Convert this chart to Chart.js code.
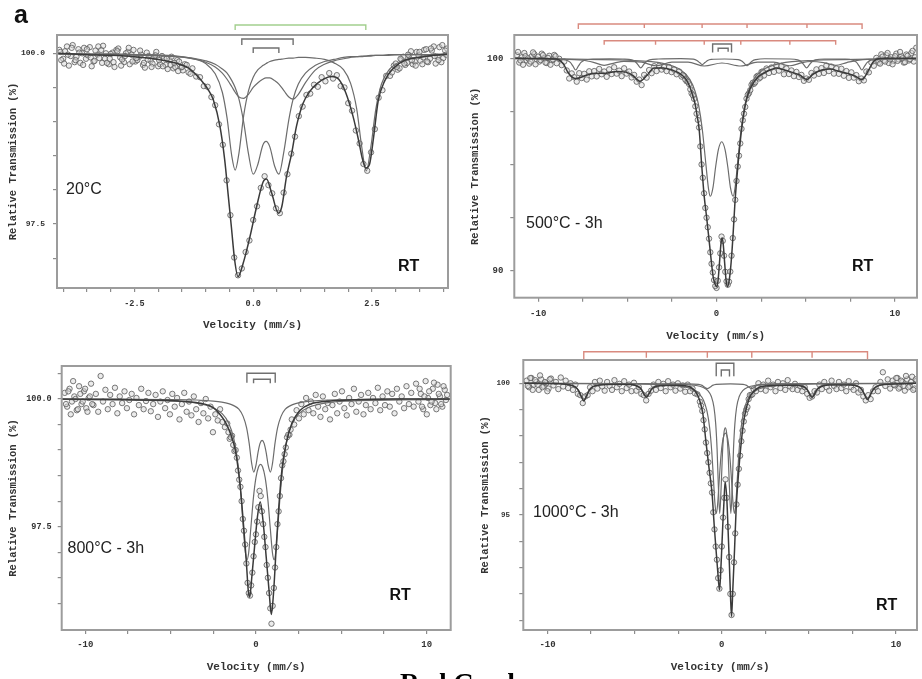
<!DOCTYPE html>
<html><head><meta charset="utf-8">
<script src="https://cdn.jsdelivr.net/npm/chart.js@4.4.1/dist/chart.umd.min.js"></script>
<style>
html,body{margin:0;padding:0;background:#fff;width:922px;height:679px;overflow:hidden;position:relative;}
canvas{position:absolute;}
.lbl{position:absolute;white-space:nowrap;font-family:"Liberation Sans",Arial,sans-serif;line-height:1;}
</style></head><body>
<canvas id="c1" width="460" height="340" style="left:0px;top:0px;width:460px;height:340px"></canvas>
<canvas id="c2" width="462" height="345" style="left:460px;top:0px;width:462px;height:345px"></canvas>
<canvas id="c3" width="460" height="334" style="left:0px;top:345px;width:460px;height:334px"></canvas>
<canvas id="c4" width="462" height="339" style="left:460px;top:340px;width:462px;height:339px"></canvas>
<div class="lbl" style="left:14px;top:2px;font-size:25px;font-weight:bold;color:#111">a</div>
<div class="lbl" style="left:66px;top:181px;font-size:16px;color:#222">20°C</div>
<div class="lbl" style="left:526px;top:214.5px;font-size:16px;color:#222">500°C - 3h</div>
<div class="lbl" style="left:67.5px;top:539.5px;font-size:16px;color:#222">800°C - 3h</div>
<div class="lbl" style="left:533px;top:504px;font-size:16px;color:#222">1000°C - 3h</div>
<div class="lbl" style="left:398px;top:258px;font-size:16px;font-weight:bold;color:#111">RT</div>
<div class="lbl" style="left:852px;top:258px;font-size:16px;font-weight:bold;color:#111">RT</div>
<div class="lbl" style="left:389.5px;top:586.5px;font-size:16px;font-weight:bold;color:#111">RT</div>
<div class="lbl" style="left:876px;top:597px;font-size:16px;font-weight:bold;color:#111">RT</div>
<div class="lbl" style="left:400px;top:670px;font-size:27px;font-weight:bold;color:#000;font-family:'Liberation Serif','Times New Roman',serif">Red Grade</div>
<script>
// ---------------- Panel 1 : 20 °C ----------------
const p1_xTicks = [-4,-3.5,-3,-2.5,-2,-1.5,-1,-0.5,0,0.5,1,1.5,2,2.5,3,3.5,4];
const p1_xMajor = [-2.5,0,2.5];
const p1_xMajorText = ['-2.5','0.0','2.5'];
const p1_yTicks = [100,99.5,99,98.5,98,97.5,97];
const p1_yMajor = [100,97.5];
const p1_yMajorText = ['100.0','97.5'];
const p1_compVel = [-4.1,-3,-2.2,-1.6,-1.2,-1.0,-0.8,-0.65,-0.55,-0.45,-0.38,-0.3,-0.2,-0.1,0,0.1,0.2,0.27,0.35,0.45,0.54,0.65,0.75,0.84,0.95,1.1,1.3,1.5,1.7,1.9,2.05,2.18,2.28,2.38,2.48,2.58,2.7,2.85,3.1,3.5,4.1];
const p1_fitA = [99.99,99.99,99.98,99.96,99.91,99.85,99.70,99.43,99.05,98.49,98.29,98.54,99.09,99.45,99.65,99.76,99.82,99.85,99.88,99.90,99.91,99.92,99.93,99.93,99.94,99.94,99.93,99.91,99.86,99.76,99.56,99.18,98.65,98.28,98.65,99.18,99.55,99.75,99.88,99.95,99.98];
const p1_fitB = [99.99,99.98,99.97,99.95,99.92,99.89,99.84,99.77,99.71,99.60,99.50,99.33,98.99,98.53,98.23,98.38,98.65,98.71,98.63,98.35,98.23,98.58,99.03,99.33,99.55,99.71,99.82,99.88,99.91,99.94,99.95,99.95,99.96,99.96,99.97,99.97,99.97,99.98,99.98,99.98,99.99];
const p1_fitC = [99.99,99.99,99.97,99.95,99.91,99.87,99.80,99.71,99.62,99.51,99.43,99.36,99.34,99.40,99.50,99.57,99.62,99.64,99.64,99.60,99.55,99.45,99.36,99.33,99.40,99.57,99.75,99.84,99.89,99.92,99.94,99.95,99.95,99.96,99.96,99.97,99.97,99.97,99.98,99.98,99.99];
const p1_totVel = [-4.1,-3.5,-3.0,-2.5,-2.0,-1.6,-1.35,-1.1,-0.95,-0.84,-0.7,-0.6,-0.53,-0.46,-0.39,-0.32,-0.21,-0.07,0.07,0.21,0.28,0.39,0.53,0.6,0.7,0.81,0.91,1.05,1.2,1.35,1.5,1.65,1.8,1.95,2.1,2.22,2.3,2.37,2.45,2.53,2.63,2.77,2.95,3.2,3.5,3.8,4.1];
const p1_totTr = [100.0,99.98,99.97,99.95,99.91,99.85,99.78,99.61,99.47,99.32,98.93,98.44,97.95,97.46,96.97,96.73,96.93,97.31,97.75,98.12,98.16,97.95,97.66,97.75,98.19,98.54,98.93,99.27,99.45,99.56,99.63,99.66,99.62,99.42,99.08,98.72,98.45,98.32,98.38,98.75,99.3,99.6,99.78,99.9,99.94,99.97,99.99];
const p1_vel = [-4.08,-4.0,-3.92,-3.84,-3.76,-3.68,-3.6,-3.52,-3.44,-3.36,-3.28,-3.2,-3.12,-3.04,-2.96,-2.88,-2.8,-2.72,-2.64,-2.56,-2.48,-2.4,-2.32,-2.24,-2.16,-2.08,-2.0,-1.92,-1.84,-1.76,-1.68,-1.6,-1.52,-1.44,-1.36,-1.28,-1.2,-1.12,-1.04,-0.96,-0.88,-0.8,-0.72,-0.64,-0.56,-0.48,-0.4,-0.32,-0.24,-0.16,-0.08,0,0.08,0.16,0.24,0.32,0.4,0.48,0.56,0.64,0.72,0.8,0.88,0.96,1.04,1.12,1.2,1.28,1.36,1.44,1.52,1.6,1.68,1.76,1.84,1.92,2.0,2.08,2.16,2.24,2.32,2.4,2.48,2.56,2.64,2.72,2.8,2.88,2.96,3.04,3.12,3.2,3.28,3.36,3.44,3.52,3.6,3.68,3.76,3.84,3.92,4.0,4.08];
const p1_tr = [100.05,99.92,100.10,99.96,99.87,100.06,100.00,99.92,100.09,99.88,99.98,100.05,99.92,99.84,100.01,100.05,99.94,99.87,100.02,99.98,99.88,99.95,99.83,100.01,99.89,99.95,99.81,99.96,99.83,99.9,99.78,99.9,99.79,99.84,99.72,99.78,99.66,99.65,99.52,99.51,99.36,99.24,98.96,98.66,98.14,97.63,97.01,96.75,96.85,97.09,97.26,97.56,97.76,98.03,98.2,98.07,97.95,97.73,97.66,97.96,98.23,98.53,98.78,99.08,99.22,99.39,99.41,99.54,99.51,99.65,99.59,99.71,99.63,99.68,99.52,99.5,99.27,99.16,98.87,98.68,98.38,98.28,98.55,98.89,99.35,99.46,99.67,99.67,99.82,99.76,99.91,99.83,99.97,99.84,100.02,99.89,100.05,99.87,100.04,99.85,100.09,99.93,100.07];
const p1_velW = [-4.04,-3.96,-3.88,-3.8,-3.72,-3.64,-3.56,-3.48,-3.4,-3.32,-3.24,-3.16,-3.08,-3.0,-2.92,-2.84,-2.76,-2.68,-2.6,-2.52,-2.44,-2.36,-2.28,-2.2,-2.12,-2.04,-1.96,-1.88,-1.8,-1.72,-1.64,-1.56,-1.48,-1.4,-1.32,2.92,3.0,3.08,3.16,3.24,3.32,3.4,3.48,3.56,3.64,3.72,3.8,3.88,3.96,4.04,
  -4.06,-3.98,-3.9,-3.82,-3.74,-3.66,-3.58,-3.5,-3.42,-3.34,-3.26,-3.18,-3.1,-3.02,-2.94,-2.86,-2.78,-2.7,-2.62,-2.54,-2.46,-2.38,-2.3,-2.22,-2.14,-2.06,-1.98,-1.9,-1.82,-1.74,-1.66,-1.58,-1.5,3.02,3.1,3.18,3.26,3.34,3.42,3.5,3.58,3.66,3.74,3.82,3.9,3.98,4.06];
const p1_trW = [99.9,100.03,99.82,100.12,99.95,99.86,100.08,99.97,99.81,100.04,99.93,100.11,99.86,99.99,99.8,100.07,99.91,100.0,99.84,100.05,99.9,99.98,99.79,99.96,99.85,100.02,99.84,99.93,99.77,99.95,99.8,99.88,99.75,99.83,99.7,99.72,99.85,99.78,99.95,99.86,100.03,99.88,99.97,99.84,100.06,99.92,100.1,99.95,99.87,100.04,
  100.02,99.85,99.98,100.08,99.9,100.01,99.83,100.06,99.94,99.89,100.1,99.86,100.0,99.92,99.87,100.03,99.82,99.96,100.08,99.88,99.93,100.04,99.86,99.91,99.8,99.97,99.9,99.81,99.92,99.83,99.86,99.74,99.8,99.8,99.92,99.85,99.98,99.9,99.82,100.02,99.94,99.88,100.07,99.96,99.9,100.12,99.98];
const p1_brGreen = [-0.38,2.37];
const p1_brOuter = [-0.24,0.84];
const p1_brInner = [0.0,0.54];

// ---------------- Panel 2 : 500 °C - 3h ----------------
const pX_ticks = [-10,-7.5,-5,-2.5,0,2.5,5,7.5,10];
const pX_major = [-10,0,10];
const pX_majorText = ['-10','0','10'];
const p2_yTicks = [100,97.5,95,92.5,90];
const p2_yMajor = [100,90];
const p2_yMajorText = ['100','90'];
const p2_totVel = [-11.34,-9.0,-8.6,-8.3,-7.9,-7.3,-6.8,-6.2,-5.6,-5.1,-4.7,-4.3,-3.9,-3.5,-3.0,-2.5,-2.0,-1.7,-1.5,-1.3,-1.21,-1.08,-0.97,-0.84,-0.69,-0.56,-0.38,-0.19,-0.08,0.0,0.08,0.16,0.24,0.31,0.38,0.46,0.54,0.62,0.72,0.82,0.92,1.03,1.21,1.4,1.55,1.68,1.85,2.05,2.3,2.61,3.0,3.36,3.6,4.2,4.7,5.05,5.4,5.9,6.4,6.8,7.3,7.8,8.15,8.5,8.8,9.3,11.24];
const p2_totTr = [100.0,99.97,99.75,99.3,99.05,99.2,99.3,99.3,99.38,99.35,99.2,98.92,99.2,99.55,99.55,99.45,99.25,99.0,98.66,98.15,97.88,97.25,96.62,95.05,93.48,92.54,91.13,89.71,89.35,89.24,89.5,90.3,91.2,91.55,91.2,90.3,89.5,89.24,89.6,90.4,91.6,93.17,95.05,96.62,97.5,98.04,98.5,98.82,99.1,99.29,99.45,99.55,99.5,99.35,99.2,99.0,99.25,99.45,99.5,99.4,99.3,99.15,99.0,99.4,99.85,100.0,100.0];
const p2_dblVel = [-11.34,-8,-5,-3,-2,-1.5,-1.2,-1.0,-0.8,-0.6,-0.45,-0.35,-0.2,-0.05,0.1,0.29,0.48,0.63,0.78,0.93,1.03,1.18,1.38,1.58,1.78,2.08,2.58,3.58,5.58,8.58,11.24];
const p2_dblTr = [99.98,99.96,99.91,99.76,99.45,99.01,98.44,97.77,96.66,95.03,93.85,93.5,93.91,94.89,95.69,96.07,95.69,94.89,93.91,93.5,93.85,95.03,96.66,97.77,98.44,99.01,99.45,99.76,99.91,99.96,99.98];
const p2_sx1Vel = [-11.34,-9.5,-8.9,-8.4,-8.2,-8.05,-7.9,-7.75,-7.6,-7.4,-6.9,-6.0,-5.25,-4.75,-4.55,-4.4,-4.25,-4.1,-3.95,-3.75,-3.25,-2.0,-1.3,-1.1,-0.95,-0.8,-0.65,-0.5,-0.3,0.45,1.21,1.41,1.56,1.71,1.86,2.01,2.21,2.7,4.05,4.55,4.75,4.9,5.05,5.2,5.35,5.55,6.05,7.2,7.65,7.85,8.0,8.15,8.3,8.45,8.65,9.15,10,11.24];
const p2_sx1Tr = [100,99.98,99.97,99.91,99.81,99.63,99.45,99.63,99.81,99.91,99.97,99.98,99.97,99.93,99.84,99.69,99.55,99.69,99.84,99.93,99.97,99.99,99.96,99.9,99.8,99.7,99.8,99.9,99.95,99.97,99.94,99.88,99.76,99.65,99.76,99.88,99.94,99.98,99.97,99.93,99.84,99.69,99.55,99.69,99.84,99.93,99.97,99.97,99.91,99.81,99.63,99.45,99.63,99.81,99.91,99.97,99.98,100];
const p2_sx2Vel = [-11.34,-9,-7.5,-6.9,-6.3,-5.7,-5.2,-4.2,-3.4,-2.5,-1.6,-0.69,0.3,1.36,2.3,3.2,4.11,4.8,5.3,6.0,6.68,7.3,8,9.5,11.24];
const p2_sx2Tr = [99.99,99.97,99.91,99.81,99.67,99.79,99.86,99.82,99.65,99.82,99.82,99.64,99.78,99.64,99.82,99.82,99.65,99.8,99.85,99.8,99.67,99.8,99.92,99.97,99.99];
const p2_vel = [-11.2,-11.06,-10.92,-10.78,-10.64,-10.5,-10.36,-10.22,-10.08,-9.94,-9.8,-9.66,-9.52,-9.38,-9.24,-9.1,-8.96,-8.82,-8.68,-8.54,-8.4,-8.26,-8.12,-7.98,-7.84,-7.7,-7.56,-7.42,-7.28,-7.14,-7.0,-6.86,-6.72,-6.58,-6.44,-6.3,-6.16,-6.02,-5.88,-5.74,-5.6,-5.46,-5.32,-5.18,-5.04,-4.9,-4.76,-4.62,-4.48,-4.34,-4.2,-4.06,-3.92,-3.78,-3.64,-3.5,-3.36,-3.22,-3.08,-2.94,-2.8,-2.66,-2.52,-2.38,-2.24,-2.1,-1.96,-1.82,-1.68,-1.54,-1.4,-1.26,-1.12,-0.98,-0.84,-0.7,-0.56,-0.42,-0.28,-0.14,0,0.14,0.28,0.42,0.56,0.7,0.84,0.98,1.12,1.26,1.4,1.54,1.68,1.82,1.96,2.1,2.24,2.38,2.52,2.66,2.8,2.94,3.08,3.22,3.36,3.5,3.64,3.78,3.92,4.06,4.2,4.34,4.48,4.62,4.76,4.9,5.04,5.18,5.32,5.46,5.6,5.74,5.88,6.02,6.16,6.3,6.44,6.58,6.72,6.86,7.0,7.14,7.28,7.42,7.56,7.7,7.84,7.98,8.12,8.26,8.4,8.54,8.68,8.82,8.96,9.1,9.24,9.38,9.52,9.66,9.8,9.94,10.08,10.22,10.36,10.5,10.64,10.78,10.92,11.06,11.2];
const p2_tr = [100.15,99.8,100.05,100.25,99.9,99.75,100.1,100.2,99.95,99.85,100.22,100.0,99.78,100.12,99.91,100.16,99.77,99.98,99.68,99.85,99.43,99.05,99.29,99.11,98.9,99.3,99.07,99.27,99.0,99.39,99.15,99.4,99.15,99.5,99.25,99.38,99.13,99.48,99.26,99.58,99.28,99.42,99.16,99.53,99.28,99.38,99.1,99.22,98.9,99.0,98.74,99.22,99.09,99.45,99.3,99.63,99.4,99.65,99.47,99.59,99.4,99.59,99.35,99.47,99.25,99.38,99.14,99.17,98.92,98.79,98.35,98.09,97.39,96.74,95.0,93.64,92.49,91.5,90.32,89.55,89.18,90.15,91.6,90.7,89.49,89.47,90.7,92.41,94.22,95.41,96.68,97.39,98.1,98.36,98.75,98.8,99.13,99.05,99.36,99.19,99.52,99.31,99.57,99.36,99.67,99.42,99.64,99.25,99.52,99.26,99.43,99.16,99.36,99.12,99.22,98.94,99.05,98.99,99.31,99.19,99.48,99.27,99.54,99.31,99.66,99.4,99.61,99.28,99.52,99.27,99.51,99.18,99.4,99.08,99.34,99.09,99.21,98.92,99.05,98.96,99.38,99.34,99.81,99.65,100.02,99.79,100.19,99.9,100.15,99.78,100.05,99.88,100.22,99.95,100.1,99.8,100.18,99.9,100.25,99.85,100.5];
const p2_velC = [-1.89,-1.75,-1.61,-1.47,-1.33,-1.19,-1.05,-0.91,-0.77,-0.63,-0.49,-0.35,-0.21,-0.07,0.07,0.21,0.35,0.49,0.63,0.77,0.91,1.05,1.19,1.33,1.47,1.61,1.75,1.89,2.03,2.17,2.31,2.45,2.59,-11.13,-10.99,-10.85,-10.71,-10.57,-10.43,-10.29,-10.15,-10.01,-9.87,-9.73,-9.59,-9.45,-9.31,-9.17,-9.03,9.03,9.17,9.31,9.45,9.59,9.73,9.87,10.01,10.15,10.29,10.43,10.57,10.71,10.85,10.99,11.13];
const p2_trC = [99.21,99.0,98.9,98.54,98.26,97.74,97.1,95.85,94.37,92.95,92.04,90.86,89.91,89.27,89.52,90.81,91.4,89.94,89.33,89.95,91.53,93.33,94.9,95.99,97.08,97.71,98.28,98.5,98.85,98.87,99.18,99.1,99.38,100.3,99.9,99.7,100.1,100.0,99.85,100.28,99.72,100.08,99.92,100.15,99.8,100.02,99.7,99.95,100.1,99.9,99.75,100.08,99.85,100.25,99.95,99.72,100.1,99.88,100.3,100.0,99.82,100.12,99.96,100.35,100.05];
const p2_brSextetA = [-7.75,-4.05,-0.81,1.71,5.07,8.16];
const p2_brSextetB = [-6.30,-3.42,-0.69,1.36,4.11,6.68];
const p2_brOuter = [-0.22,0.84];
const p2_brInner = [0.09,0.65];

// ---------------- Panel 3 : 800 °C - 3h ----------------
const p3_yTicks = [100.5,100,99.5,99,98.5,98,97.5,97,96.5,96];
const p3_yMajor = [100,97.5];
const p3_yMajorText = ['100.0','97.5'];
const p3_dblAVel = [-11.4,-8,-5,-3.5,-2.5,-2,-1.6,-1.3,-1.1,-0.9,-0.75,-0.63,-0.53,-0.43,-0.3,-0.15,0,0.15,0.27,0.39,0.54,0.69,0.84,0.97,1.07,1.17,1.29,1.44,1.64,1.84,2.14,2.54,3.04,4.04,5.54,8.54,11.42];
const p3_dblATr = [99.99,99.98,99.96,99.92,99.83,99.72,99.53,99.23,98.85,98.2,97.53,97.03,96.85,96.98,97.47,98.06,98.46,98.67,98.72,98.67,98.46,98.06,97.47,96.98,96.85,97.03,97.53,98.2,98.85,99.23,99.53,99.72,99.83,99.92,99.96,99.98,99.99];
const p3_dblBVel = [-11.4,-8,-5,-3.5,-2.5,-2,-1.6,-1.3,-1.0,-0.75,-0.55,-0.4,-0.25,-0.13,0,0.12,0.24,0.36,0.48,0.6,0.72,0.85,0.97,1.12,1.27,1.47,1.72,2.02,2.32,2.72,3.22,4.22,5.72,8.72,11.42];
const p3_dblBTr = [100,100,99.99,99.98,99.96,99.94,99.91,99.87,99.8,99.66,99.44,99.14,98.74,98.57,98.7,98.95,99.13,99.19,99.13,98.95,98.7,98.57,98.74,99.14,99.44,99.66,99.8,99.87,99.91,99.94,99.96,99.98,99.99,100,100];
const p3_totVel = [-11.4,-8,-5,-3.5,-3.0,-2.5,-2.09,-1.8,-1.5,-1.21,-1.01,-0.88,-0.72,-0.57,-0.45,-0.37,-0.24,-0.08,0.09,0.25,0.41,0.6,0.78,0.9,1.03,1.19,1.34,1.52,1.77,2.1,2.59,3.2,4,5.5,8,11.42];
const p3_totTr = [100.0,99.99,99.97,99.93,99.9,99.83,99.69,99.55,99.33,99.0,98.55,98.15,97.5,96.85,96.25,96.12,96.52,97.11,97.7,97.99,97.63,96.91,96.2,95.78,96.2,97.11,97.89,98.61,99.13,99.52,99.78,99.9,99.95,99.98,100.0,100.0];
const p3_vel = p2_vel.slice();
const p3_tr = [100.12,99.85,100.2,99.95,100.05,99.78,100.25,99.9,100.15,99.82,100.02,100.3,99.88,100.1,99.75,100.45,99.95,100.18,99.8,100.08,99.9,100.22,99.72,100.05,99.92,100.15,99.82,99.98,100.1,99.7,100.02,99.88,100.2,99.8,99.96,100.12,99.76,99.9,100.08,99.65,99.95,100.15,99.82,99.98,99.7,100.1,99.85,100.02,99.6,99.9,100.12,99.75,99.95,99.68,100.05,99.8,99.55,99.92,99.72,100.0,99.62,99.85,99.35,99.7,99.58,99.8,99.55,99.45,99.52,99.22,99.28,98.98,98.85,98.42,98.0,97.42,96.78,96.2,96.35,96.92,97.35,97.88,98.1,97.55,97.1,96.5,95.9,95.95,96.7,97.55,98.1,98.7,98.92,99.25,99.3,99.6,99.5,99.78,99.62,99.9,99.7,100.02,99.78,99.95,99.72,100.08,99.85,99.65,100.05,99.8,99.92,99.6,99.88,100.1,99.72,99.95,100.15,99.82,99.68,100.02,99.9,100.2,99.75,99.95,100.08,99.7,99.88,100.12,99.8,100.02,99.92,100.22,99.78,100.05,99.88,100.15,99.85,100.1,99.72,100.2,99.95,100.05,99.82,100.25,99.9,100.12,99.85,100.3,99.95,100.1,99.8,100.35,100.02,99.88,100.2,99.92,100.28,100.05,99.85,100.18,100.08];
const p3_velC = [-1.61,-1.47,-1.33,-1.19,-1.05,-0.91,-0.77,-0.63,-0.49,-0.35,-0.21,-0.07,0.07,0.21,0.35,0.49,0.63,0.77,0.91,1.05,1.19,1.33,1.47,1.61,1.75,1.89,2.03,-11.13,-10.99,-10.85,-10.71,-10.57,-10.43,-10.29,-10.15,-10.01,-9.87,-9.73,-9.59,9.59,9.73,9.87,10.01,10.15,10.29,10.43,10.57,10.71,10.85,10.99,11.13];
const p3_trC = [99.35,99.25,99.1,99.0,98.6,98.28,97.65,97.15,96.4,96.15,96.6,97.2,97.6,98.2,97.8,97.3,96.75,96.2,95.6,96.3,97.1,97.8,98.45,98.78,99.05,99.3,99.4,99.9,100.15,99.7,100.35,100.0,99.8,100.1,99.95,100.2,99.75,100.05,99.9,100.2,99.85,100.05,99.7,100.15,99.95,100.32,99.8,100.1,99.9,100.25,99.98];
const p3_brOuter = [-0.53,1.13];
const p3_brInner = [-0.14,0.84];

// ---------------- Panel 4 : 1000 °C - 3h ----------------
const p4_yTicks = [100,99,98,97,96,95,94,93,92,91];
const p4_yMajor = [100,95];
const p4_yMajorText = ['100','95'];
const p4_dblAVel = [-11.37,-8,-5,-3.5,-2.5,-2,-1.6,-1.3,-1.05,-0.85,-0.7,-0.58,-0.48,-0.4,-0.32,-0.24,-0.15,-0.05,0.05,0.13,0.205,0.28,0.36,0.46,0.56,0.65,0.73,0.81,0.89,0.99,1.11,1.26,1.46,1.71,2.01,2.41,2.91,3.91,5.41,8.41,11.2];
const p4_dblATr = [100.0,99.99,99.98,99.95,99.9,99.84,99.75,99.6,99.36,98.94,98.32,97.44,96.37,95.48,95.06,95.4,96.31,97.23,97.81,98.04,98.11,98.04,97.81,97.23,96.31,95.4,95.06,95.48,96.37,97.44,98.32,98.94,99.36,99.6,99.75,99.84,99.9,99.95,99.98,99.99,100.0];
const p4_dblBVel = [-11.37,-5,-3,-2,-1.5,-1.1,-0.8,-0.6,-0.45,-0.35,-0.27,-0.2,-0.12,-0.04,0.05,0.13,0.2,0.27,0.35,0.44,0.52,0.6,0.67,0.75,0.85,1.0,1.2,1.5,1.9,2.4,3.4,5.4,11.2];
const p4_dblBTr = [100.0,99.99,99.98,99.95,99.92,99.85,99.72,99.5,99.09,98.46,97.49,96.14,95.06,96.02,97.51,98.15,98.31,98.15,97.51,96.02,95.06,96.14,97.49,98.46,99.09,99.5,99.72,99.85,99.92,99.95,99.98,99.99,100.0];
const p4_sxVel = [-11.37,-9.5,-8.82,-8.42,-8.22,-8.07,-7.92,-7.77,-7.62,-7.42,-7.0,-6.0,-5.23,-4.83,-4.63,-4.48,-4.33,-4.18,-4.03,-3.83,-3.4,-2.0,-1.33,-1.13,-0.98,-0.83,-0.68,-0.53,-0.33,0.5,1.22,1.42,1.57,1.72,1.87,2.02,2.22,3.5,4.28,4.68,4.88,5.03,5.18,5.33,5.48,5.68,6.1,7.4,7.86,8.06,8.21,8.36,8.51,8.66,8.86,9.3,11.2];
const p4_sxTr = [100,99.99,99.95,99.87,99.73,99.52,99.35,99.52,99.73,99.87,99.95,99.98,99.96,99.9,99.8,99.63,99.5,99.63,99.8,99.9,99.96,99.98,99.96,99.92,99.85,99.8,99.85,99.92,99.96,99.98,99.96,99.92,99.85,99.8,99.85,99.92,99.96,99.98,99.96,99.9,99.8,99.63,99.5,99.63,99.8,99.9,99.96,99.96,99.88,99.75,99.56,99.4,99.56,99.75,99.88,99.96,100];
const p4_totVel = [-11.37,-9.5,-8.82,-8.42,-8.22,-8.07,-7.92,-7.77,-7.62,-7.42,-7.0,-6.0,-5.23,-4.83,-4.63,-4.48,-4.33,-4.18,-4.03,-3.83,-3.4,-2.5,-1.85,-1.5,-1.28,-1.09,-0.9,-0.72,-0.56,-0.43,-0.33,-0.24,-0.13,-0.04,0.06,0.12,0.19,0.29,0.36,0.44,0.5,0.56,0.63,0.73,0.82,0.96,1.11,1.3,1.59,1.72,2.16,3.0,4.28,4.68,4.88,5.03,5.18,5.33,5.48,5.68,6.1,7.4,7.86,8.06,8.21,8.36,8.51,8.66,8.86,9.3,11.2];
const p4_totTr = [100.0,99.99,99.95,99.86,99.72,99.5,99.33,99.5,99.72,99.86,99.94,99.96,99.95,99.88,99.78,99.6,99.47,99.6,99.77,99.87,99.92,99.93,99.87,99.68,99.37,98.86,97.72,96.71,95.82,94.55,93.67,92.91,92.15,93.16,94.68,95.44,96.25,95.57,94.43,93.03,91.9,91.14,92.15,93.67,95.19,96.58,97.72,98.73,99.45,99.6,99.85,99.92,99.93,99.87,99.77,99.6,99.47,99.6,99.77,99.87,99.94,99.94,99.86,99.73,99.54,99.38,99.54,99.73,99.86,99.95,100.0];
const p4_vel = p2_vel.slice();
const p4_tr = [100.1,99.85,100.2,99.95,100.05,99.75,100.15,99.9,100.0,99.8,100.18,99.92,100.05,99.78,100.22,99.88,100.1,99.82,100.0,99.75,99.95,99.6,99.55,99.25,99.5,99.55,99.85,99.7,100.05,99.8,100.1,99.88,99.72,100.05,99.9,99.75,100.12,99.85,99.98,99.7,100.08,99.82,99.95,99.7,100.02,99.72,99.85,99.6,99.55,99.35,99.6,99.72,99.95,99.75,100.05,99.82,99.98,99.7,100.08,99.85,99.95,99.72,100.0,99.8,99.92,99.68,99.95,99.7,99.8,99.62,99.58,99.3,98.95,98.25,97.35,96.6,95.85,94.45,93.3,92.2,93.8,95.65,95.65,93.4,91.2,93.2,95.4,96.75,97.8,98.55,99.0,99.4,99.55,99.78,99.7,100.0,99.78,99.95,99.72,100.1,99.85,99.95,99.7,100.05,99.82,100.0,99.75,100.12,99.88,99.78,99.98,99.75,99.9,99.7,99.85,99.6,99.45,99.5,99.7,99.65,99.95,99.78,100.05,99.85,99.72,100.1,99.9,99.78,100.05,99.82,99.95,99.7,100.08,99.85,99.75,100.0,99.65,99.75,99.5,99.35,99.55,99.4,99.7,99.85,99.7,100.05,100.42,99.9,100.15,99.8,100.1,99.92,100.2,99.85,100.05,99.72,100.15,99.9,100.25,99.8,100.1];
const p4_velC = [-1.19,-1.05,-0.91,-0.77,-0.63,-0.49,-0.35,-0.21,-0.07,0.07,0.21,0.35,0.49,0.63,0.77,0.91,1.05,1.19,1.33,1.47,1.61,1.75,-11.13,-10.99,-10.85,-10.71,-10.57,-10.43,-10.29,-10.15,-10.01,-9.87,9.87,10.01,10.15,10.29,10.43,10.57,10.71,10.85,10.99,11.13];
const p4_trC = [99.15,98.6,97.75,97.0,96.2,95.1,93.8,92.6,92.9,94.9,96.35,94.55,92.0,92.0,94.3,96.15,97.25,98.2,98.85,99.1,99.55,99.58,99.9,100.2,99.75,100.12,99.95,100.3,99.85,100.05,99.7,100.15,99.95,100.2,99.8,100.1,99.9,100.28,99.85,100.05,99.75,100.15];
const p4_brSextet = [-7.92,-4.33,-0.83,1.72,5.18,8.36];
const p4_brOuter = [-0.32,0.69];
const p4_brInner = [-0.03,0.44];

// ---------------- drawing ----------------
const MONO = "'Liberation Mono','DejaVu Sans Mono',monospace";
const zip = (xs, ys) => xs.map((x, i) => ({x: x, y: ys[i]}));
const majorLabel = (maj, txt) => (v) => { const i = maj.findIndex(m => Math.abs(m - v) < 1e-6); return i >= 0 ? txt[i] : ''; };
const GREEN = '#a3cf8e', RED = '#d98a7f', GREY = '#707070';

const frameBrackets = {
  id: 'frameBrackets',
  afterDraw(chart, args, opts) {
    const ctx = chart.ctx, a = chart.chartArea, xs = chart.scales.x;
    ctx.save();
    ctx.strokeStyle = '#9c9c9c'; ctx.lineWidth = 2;
    ctx.strokeRect(a.left, a.top, a.right - a.left, a.bottom - a.top);
    (opts.brackets || []).forEach(b => {
      const y = a.top + b.dy;
      const px = b.v.map(v => xs.getPixelForValue(v));
      ctx.strokeStyle = b.color; ctx.lineWidth = 1.4;
      ctx.beginPath();
      ctx.moveTo(px[0], y + b.drop); ctx.lineTo(px[0], y);
      ctx.lineTo(px[px.length - 1], y); ctx.lineTo(px[px.length - 1], y + b.drop);
      for (let i = 1; i < px.length - 1; i++) { ctx.moveTo(px[i], y); ctx.lineTo(px[i], y + (b.inner || b.drop)); }
      ctx.stroke();
    });
    ctx.restore();
  }
};

function makePanel(o) {
  const ds = [{
    type: 'scatter', data: zip(o.dv, o.dt), pointRadius: 2.7, pointBorderWidth: 1,
    pointBorderColor: 'rgba(90,90,90,0.8)', pointBackgroundColor: 'rgba(215,215,215,0.5)', order: 5, clip: 0
  }];
  o.comps.forEach(c => ds.push({
    type: 'line', data: zip(c[0], c[1]), borderColor: '#6c6c6c', borderWidth: 1.2, pointRadius: 0,
    cubicInterpolationMode: 'monotone', fill: false, order: 3, clip: 0
  }));
  ds.push({
    type: 'line', data: zip(o.tv, o.tt), borderColor: '#3a3a3a', borderWidth: 1.5, pointRadius: 0,
    cubicInterpolationMode: 'monotone', fill: false, order: 1, clip: 0
  });
  new Chart(document.getElementById(o.id), {
    type: 'scatter',
    data: {datasets: ds},
    options: {
      responsive: false, animation: false, devicePixelRatio: 1,
      layout: {padding: {left: 0, top: o.pt, right: o.pr, bottom: 0}},
      plugins: {legend: {display: false}, tooltip: {enabled: false}, frameBrackets: {brackets: o.brackets}},
      scales: {
        x: {
          type: 'linear', min: o.xmin, max: o.xmax,
          afterBuildTicks: s => { s.ticks = o.xticks.map(v => ({value: v})); },
          afterFit: s => { s.height = o.H; },
          ticks: {autoSkip: false, maxRotation: 0, padding: o.xpad, color: '#333',
                  font: {family: MONO, weight: 'bold', size: o.xfs}, callback: majorLabel(o.xmaj, o.xmajT)},
          grid: {drawOnChartArea: false, drawTicks: true, tickLength: 4, color: '#8c8c8c', lineWidth: 1.2},
          border: {display: false},
          title: {display: true, text: 'Velocity (mm/s)', color: '#333',
                  font: {family: MONO, weight: 'bold', size: 11}, padding: {top: 0, bottom: o.xtp}}
        },
        y: {
          type: 'linear', position: 'left', min: o.ymin, max: o.ymax,
          afterBuildTicks: s => { s.ticks = o.yticks.map(v => ({value: v})); },
          afterFit: s => { s.width = o.W; },
          ticks: {autoSkip: false, padding: o.ypad, color: '#333',
                  font: {family: MONO, weight: 'bold', size: o.yfs}, callback: majorLabel(o.ymaj, o.ymajT)},
          grid: {drawOnChartArea: false, drawTicks: true, tickLength: 4, color: '#8c8c8c', lineWidth: 1.2},
          border: {display: false},
          title: {display: true, text: 'Relative Transmission (%)', color: '#333',
                  font: {family: MONO, weight: 'bold', size: 10.5}, padding: {top: o.ytp, bottom: 0}}
        }
      }
    },
    plugins: [frameBrackets]
  });
}

makePanel({
  id: 'c1', pt: 35, pr: 12, W: 57, H: 52,
  xmin: -4.13, xmax: 4.10, ymin: 96.564, ymax: 100.268,
  xticks: p1_xTicks, xmaj: p1_xMajor, xmajT: p1_xMajorText, xfs: 8.5, xpad: 6.9, xtp: 8.4,
  yticks: p1_yTicks, ymaj: p1_yMajor, ymajT: p1_yMajorText, yfs: 8, ypad: 8, ytp: 7,
  dv: p1_vel.concat(p1_velW), dt: p1_tr.concat(p1_trW),
  comps: [[p1_compVel, p1_fitA], [p1_compVel, p1_fitB], [p1_compVel, p1_fitC]],
  tv: p1_totVel, tt: p1_totTr,
  brackets: [
    {v: p1_brGreen, color: GREEN, dy: -10, drop: 5},
    {v: p1_brOuter, color: GREY, dy: 4, drop: 6},
    {v: p1_brInner, color: GREY, dy: 13, drop: 5}
  ]
});

makePanel({
  id: 'c2', pt: 35, pr: 4.7, W: 54.3, H: 47.3,
  xmin: -11.34, xmax: 11.24, ymin: 88.72, ymax: 101.1,
  xticks: pX_ticks, xmaj: pX_major, xmajT: pX_majorText, xfs: 9, xpad: 6.2, xtp: 1.9,
  yticks: p2_yTicks, ymaj: p2_yMajor, ymajT: p2_yMajorText, yfs: 9, ypad: 7, ytp: 8.7,
  dv: p2_vel.concat(p2_velC), dt: p2_tr.concat(p2_trC),
  comps: [[p2_sx2Vel, p2_sx2Tr], [p2_sx1Vel, p2_sx1Tr], [p2_dblVel, p2_dblTr]],
  tv: p2_totVel, tt: p2_totTr,
  brackets: [
    {v: p2_brSextetA, color: RED, dy: -11, drop: 5, inner: 4},
    {v: p2_brSextetB, color: RED, dy: 5.7, drop: 4, inner: 4},
    {v: p2_brOuter, color: GREY, dy: 9, drop: 8.5},
    {v: p2_brInner, color: GREY, dy: 13.3, drop: 3.5}
  ]
});

makePanel({
  id: 'c3', pt: 21, pr: 9.3, W: 61.7, H: 49,
  xmin: -11.38, xmax: 11.41, ymin: 95.477, ymax: 100.646,
  xticks: pX_ticks, xmaj: pX_major, xmajT: pX_majorText, xfs: 9, xpad: 5.6, xtp: 4.7,
  yticks: p3_yTicks, ymaj: p3_yMajor, ymajT: p3_yMajorText, yfs: 8.5, ypad: 6, ytp: 7,
  dv: p3_vel.concat(p3_velC), dt: p3_tr.concat(p3_trC),
  comps: [[p3_dblAVel, p3_dblATr], [p3_dblBVel, p3_dblBTr]],
  tv: p3_totVel, tt: p3_totTr,
  brackets: [
    {v: p3_brOuter, color: GREY, dy: 7.3, drop: 9.4},
    {v: p3_brInner, color: GREY, dy: 13.3, drop: 4}
  ]
});

makePanel({
  id: 'c4', pt: 20, pr: 4, W: 63.3, H: 49,
  xmin: -11.39, xmax: 11.2, ymin: 90.63, ymax: 100.885,
  xticks: pX_ticks, xmaj: pX_major, xmajT: pX_majorText, xfs: 9, xpad: 5.6, xtp: 4.7,
  yticks: p4_yTicks, ymaj: p4_yMajor, ymajT: p4_yMajorText, yfs: 7.5, ypad: 9.3, ytp: 18.7,
  dv: p4_vel.concat(p4_velC), dt: p4_tr.concat(p4_trC),
  comps: [[p4_sxVel, p4_sxTr], [p4_dblAVel, p4_dblATr], [p4_dblBVel, p4_dblBTr]],
  tv: p4_totVel, tt: p4_totTr,
  brackets: [
    {v: p4_brSextet, color: RED, dy: -8.3, drop: 7.6, inner: 6},
    {v: p4_brOuter, color: GREY, dy: 3.3, drop: 13},
    {v: p4_brInner, color: GREY, dy: 10, drop: 6.5}
  ]
});
</script>
</body></html>
